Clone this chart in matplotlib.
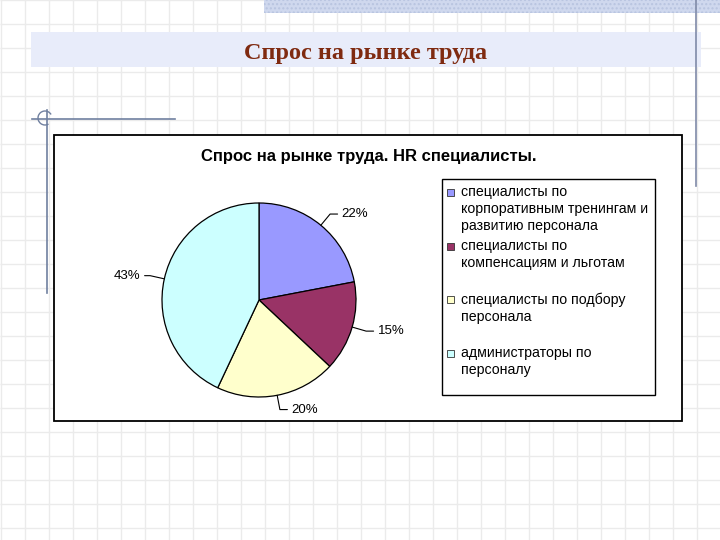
import numpy as np
import matplotlib
matplotlib.use("Agg")
import matplotlib.pyplot as plt
from matplotlib.patches import Rectangle, Arc

slide_title = "Спрос на рынке труда"
chart_title = "Спрос на рынке труда. HR специалисты."
categories = [
    "специалисты по\nкорпоративным тренингам и\nразвитию персонала",
    "специалисты по\nкомпенсациям и льготам",
    "специалисты по подбору\nперсонала",
    "администраторы по\nперсоналу",
]
shares = [22, 15, 20, 43]
colors = ["#9999ff", "#993366", "#ffffcc", "#ccffff"]

W, H = 720, 540
fig = plt.figure(figsize=(W / 100, H / 100), dpi=100)

# background axes in pixel coordinates
bg = fig.add_axes([0, 0, 1, 1])
bg.set_xlim(0, W)
bg.set_ylim(H, 0)
bg.axis("off")

# slide grid
bg.vlines(np.arange(1, W, 24), 0, H, color="#ebebeb", lw=1, zorder=0)
bg.hlines(np.arange(0, H, 24), 0, W, color="#ebebeb", lw=1, zorder=0)

# top patterned band and right line
bg.add_patch(Rectangle((264, 0), W - 264, 13, color="#cfd8ee", hatch="....", ec="#b8c4e0", lw=0, zorder=1))
bg.plot([696, 696], [0, 186], color="#7f8aa8", lw=1.2, zorder=2)

# title band
bg.add_patch(Rectangle((31, 32), 670, 35, color="#e8ecfa", lw=0, zorder=1))
bg.text(366, 53, slide_title, ha="center", va="center", fontsize=17.5,
        family="Liberation Serif", weight="bold", color="#7f2a10", zorder=3)

# left decoration
bg.plot([32, 175], [119, 119], color="#7080a0", lw=1.2, zorder=2)
bg.plot([47, 47], [110, 293], color="#7080a0", lw=1.2, zorder=2)
bg.add_patch(Arc((45, 118), 14, 14, theta1=60, theta2=330, color="#7080a0", lw=1, zorder=2))

# chart area
bg.add_patch(Rectangle((54, 135), 628, 286, fc="white", ec="black", lw=1.3, zorder=3))
bg.text(369, 156, chart_title, ha="center", va="center", fontsize=12,
        family="Liberation Sans", weight="bold", color="black", zorder=4)

# legend box
bg.add_patch(Rectangle((442, 179), 213, 216, fc="white", ec="black", lw=1, zorder=4))
slot = 53.7
for i, (lab, c) in enumerate(zip(categories, colors)):
    yc = 193 + i * slot
    bg.add_patch(Rectangle((447, yc - 4), 7, 7, fc=c, ec="#333333", lw=0.6, zorder=5))
    bg.text(461, yc - 8, lab, ha="left", va="top", fontsize=10.2, linespacing=1.27,
            family="Liberation Sans", color="black", zorder=5)

# pie
cx, cy, r = 259, 300, 97
side = 4 * r
ax = fig.add_axes([(cx - side / 2) / W, (H - cy - side / 2) / H, side / W, side / H])
ax.patch.set_visible(False)
wedges, _ = ax.pie(shares, colors=colors, startangle=90, counterclock=False,
                   wedgeprops=dict(edgecolor="black", linewidth=0.9))
ax.set_xlim(-2, 2)
ax.set_ylim(-2, 2)
ax.set_aspect("equal")
ax.axis("off")

for w, v in zip(wedges, shares):
    ang = np.deg2rad((w.theta1 + w.theta2) / 2)
    ex, ey = np.cos(ang), np.sin(ang)
    right = ex >= 0
    tx = 1.15 * ex + (0.12 if right else -0.1)
    ty = 1.15 * ey
    ax.annotate(f"{v}%", xy=(ex, ey), xytext=(tx, ty),
                ha="left" if right else "right", va="center",
                fontsize=9.5, family="Liberation Sans",
                arrowprops=dict(arrowstyle="-", lw=0.8, color="black",
                                shrinkA=1, shrinkB=0,
                                connectionstyle=f"angle,angleA=0,angleB={np.rad2deg(ang):.1f},rad=0"))

fig.savefig("out.png", dpi=100)
